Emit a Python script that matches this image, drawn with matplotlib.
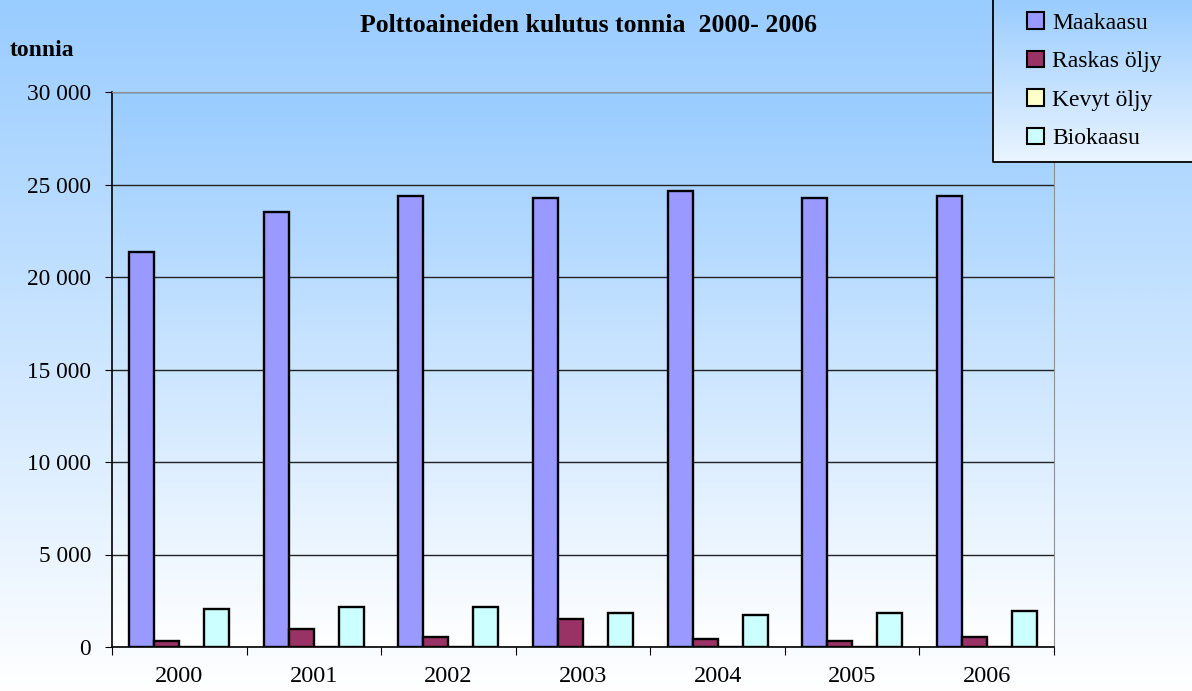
import matplotlib.pyplot as plt
import numpy as np
from matplotlib.patches import Patch
from matplotlib.colors import LinearSegmentedColormap
from matplotlib.ticker import FuncFormatter, FixedLocator

years = ['2000', '2001', '2002', '2003', '2004', '2005', '2006']
series = ['Maakaasu', 'Raskas öljy', 'Kevyt öljy', 'Biokaasu']
maakaasu = [21330, 23500, 24360, 24250, 24670, 24250, 24360]
raskas_oljy = [310, 960, 525, 1500, 435, 310, 525]
kevyt_oljy = [0, 0, 0, 0, 0, 0, 0]
biokaasu = [2050, 2170, 2170, 1830, 1740, 1830, 1950]
colors = ['#9999ff', '#993366', '#ffffcc', '#ccffff']

plt.rcParams['font.family'] = ['Liberation Serif', 'DejaVu Serif']

W, H = 1192, 691
fig = plt.figure(figsize=(W / 100, H / 100), dpi=100)

grad = LinearSegmentedColormap.from_list('g', ['#99ccff', '#ffffff'])
col = np.linspace(0, 1, 256).reshape(-1, 1)

# background gradients (pixel coordinates)
bg = fig.add_axes([0, 0, 1, 1], zorder=-10)
bg.imshow(col, cmap=grad, aspect='auto', extent=(0, W, H, 0))
bg.imshow(col, cmap=grad, aspect='auto', extent=(112, 1054, 647, 92))
bg.set_xlim(0, W)
bg.set_ylim(H, 0)
bg.axis('off')

# legend box, on top of the plot area
lx0, ly1 = 992, 163
lg = fig.add_axes([lx0 / W, 1 - ly1 / H, (W - lx0) / W, ly1 / H], zorder=3)
lg.imshow(col, cmap=grad, aspect='auto', extent=(0, 1, 1.25, 0), vmin=0, vmax=1)
lg.set_xlim(0, 1)
lg.set_ylim(1, 0)
lg.plot([0.004, 0.004, 1], [0, 0.995, 0.995], color='black', lw=1.3, clip_on=False)
lg.axis('off')

ax = fig.add_axes([112 / W, 1 - 647 / H, (1054 - 112) / W, (647 - 92) / H])
ax.set_facecolor('none')

x = np.arange(len(years))
w = 0.186
data = [maakaasu, raskas_oljy, kevyt_oljy, biokaasu]
for i, (vals, c) in enumerate(zip(data, colors)):
    ax.bar(x + (i - 1.5) * w, vals, w, color=c, edgecolor='black',
           linewidth=1.7, zorder=3)

ax.set_xlim(-0.5, len(years) - 0.5)
ax.set_ylim(0, 30000)
ax.set_yticks(np.arange(0, 30001, 5000))
ax.yaxis.set_major_formatter(FuncFormatter(lambda v, p: f'{int(v):,}'.replace(',', ' ')))
ax.grid(axis='y', color='#222222', linewidth=1.0, zorder=1)

ax.xaxis.set_major_locator(FixedLocator(np.arange(-0.5, len(years), 1)))
ax.xaxis.set_minor_locator(FixedLocator(x))
ax.set_xticklabels([], minor=False)
ax.set_xticklabels(years, minor=True)
ax.tick_params(axis='x', which='major', length=6, direction='out', color='black')
ax.tick_params(axis='x', which='minor', length=0, pad=14, labelsize=17.5)
ax.tick_params(axis='y', length=5, direction='out', pad=10, labelsize=16.8)

for s in ['top', 'right']:
    ax.spines[s].set_color('#909090')
for s in ['left', 'bottom']:
    ax.spines[s].set_color('black')
    ax.spines[s].set_linewidth(1.2)

fig.text(589 / W, 1 - 25 / H, 'Polttoaineiden kulutus tonnia  2000- 2006',
         ha='center', va='center', fontsize=18.5, fontweight='bold')
fig.text(10 / W, 1 - 50 / H, 'tonnia', ha='left', va='center',
         fontsize=17, fontweight='bold')

handles = [Patch(facecolor=c, edgecolor='black', linewidth=1.5) for c in colors]
leg = fig.legend(handles, series, loc='upper left', bbox_to_anchor=(1006 / W, 1 + 9 / H),
                 frameon=False, fontsize=17, handlelength=0.7, handleheight=0.7,
                 handletextpad=0.35, labelspacing=0.72)
leg.set_zorder(10)

fig.savefig('out.png', dpi=100)
